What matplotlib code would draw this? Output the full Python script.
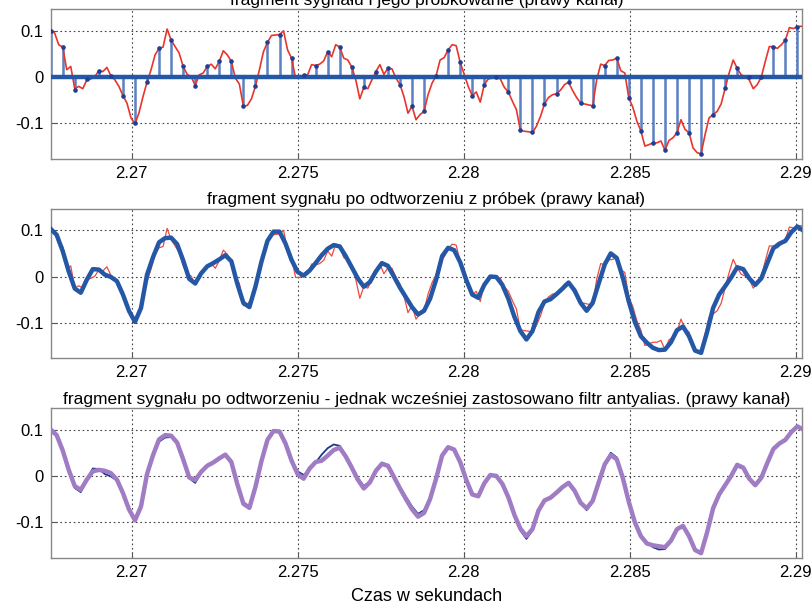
import numpy as np
import matplotlib
matplotlib.use('Agg')
import matplotlib.pyplot as plt

plt.rcParams['font.family'] = ['Liberation Sans', 'DejaVu Sans']

# time axis: first sample and sampling step (44100 / 16 Hz)
t_start = 2.26756
dt = 1 / 2756.25

# original signal (red), read every 1/3 of a sampling period
signal = [
    0.102, 0.095, 0.070, 0.065, 0.016, 0.023, -0.025, -0.020, -0.025, -0.006,
    -0.004, 0.001, 0.014, 0.012, 0.021, 0.003, -0.006, -0.020, -0.040, -0.056,
    -0.088, -0.101, -0.077, -0.042, -0.011, 0.016, 0.048, 0.062, 0.065, 0.104,
    0.080, 0.066, 0.052, 0.023, 0.006, 0.001, -0.018, 0.005, 0.009, 0.023,
    0.028, 0.018, 0.034, 0.057, 0.048, 0.034, -0.002, -0.015, -0.063, -0.061,
    -0.047, -0.020, 0.016, 0.055, 0.075, 0.090, 0.091, 0.092, 0.100, 0.059,
    0.041, -0.002, -0.002, 0.004, 0.005, 0.027, 0.025, 0.028, 0.035, 0.055,
    0.044, 0.070, 0.065, 0.041, 0.037, 0.022, -0.006, -0.047, -0.022, -0.025,
    -0.006, 0.012, 0.027, 0.006, 0.019, 0.018, -0.002, -0.016, -0.042, -0.078,
    -0.063, -0.092, -0.081, -0.074, -0.038, -0.013, 0.003, 0.037, 0.042, 0.059,
    0.070, 0.068, 0.032, 0.006, -0.020, -0.040, -0.032, -0.054, -0.016, -0.004,
    -0.002, 0.000, -0.004, -0.022, -0.032, -0.052, -0.070, -0.115, -0.117, -0.118,
    -0.120, -0.106, -0.085, -0.058, -0.044, -0.038, -0.036, -0.028, -0.016, -0.011,
    -0.029, -0.044, -0.056, -0.058, -0.060, -0.062, -0.006, 0.028, 0.025, 0.036,
    0.037, 0.041, 0.014, 0.009, -0.045, -0.065, -0.095, -0.116, -0.149, -0.146,
    -0.142, -0.142, -0.138, -0.158, -0.137, -0.131, -0.120, -0.092, -0.113, -0.120,
    -0.153, -0.163, -0.166, -0.124, -0.088, -0.081, -0.074, -0.058, -0.024, 0.009,
    0.037, 0.019, 0.005, 0.001, -0.006, -0.025, -0.016, 0.000, 0.034, 0.066,
    0.066, 0.062, 0.070, 0.080, 0.107, 0.105, 0.109, 0.110, 0.107,
]

# samples (stems)
samples = [
    0.100, 0.065, -0.027, -0.005, 0.014, 0.003, -0.040, -0.099, -0.011, 0.062,
    0.080, 0.023, -0.019, 0.023, 0.034, 0.034, -0.063, -0.020, 0.075, 0.092,
    0.041, 0.004, 0.025, 0.055, 0.065, 0.022, -0.022, 0.012, 0.019, -0.016,
    -0.063, -0.074, 0.003, 0.059, 0.032, -0.040, -0.016, 0.000, -0.032, -0.115,
    -0.118, -0.058, -0.036, -0.011, -0.056, -0.062, 0.025, 0.041, -0.045, -0.116,
    -0.142, -0.158, -0.120, -0.120, -0.166, -0.081, -0.024, 0.019, 0.001, 0.000,
    0.066, 0.080, 0.109,
]

# reconstructed signal (blue), read every half sampling period
rebuilt = [
    0.103, 0.090, 0.055, 0.011, -0.026, -0.035, -0.007, 0.016, 0.015, 0.004,
    -0.001, -0.010, -0.039, -0.074, -0.098, -0.068, 0.004, 0.042, 0.074, 0.083,
    0.084, 0.070, 0.035, -0.005, -0.015, 0.007, 0.022, 0.029, 0.037, 0.046,
    0.033, -0.016, -0.057, -0.066, -0.022, 0.032, 0.077, 0.097, 0.097, 0.071,
    0.036, 0.010, 0.002, 0.013, 0.029, 0.046, 0.060, 0.068, 0.065, 0.044,
    0.020, -0.004, -0.022, -0.012, 0.011, 0.029, 0.023, 0.000, -0.024, -0.045,
    -0.066, -0.082, -0.074, -0.048, -0.007, 0.044, 0.062, 0.057, 0.031, -0.007,
    -0.039, -0.046, -0.018, 0.000, -0.001, -0.018, -0.048, -0.087, -0.118, -0.136,
    -0.118, -0.077, -0.054, -0.049, -0.038, -0.026, -0.013, -0.030, -0.057, -0.074,
    -0.057, -0.015, 0.026, 0.050, 0.040, -0.002, -0.054, -0.098, -0.129, -0.143,
    -0.154, -0.159, -0.158, -0.142, -0.116, -0.108, -0.129, -0.160, -0.165, -0.120,
    -0.068, -0.039, -0.021, -0.002, 0.020, 0.016, -0.004, -0.018, -0.004, 0.029,
    0.061, 0.071, 0.077, 0.096, 0.108, 0.099,
]

# reconstructed signal after anti-aliasing filter (purple)
rebuilt_filtered = [
    0.100, 0.088, 0.055, 0.013, -0.022, -0.030, -0.008, 0.010, 0.013, 0.011,
    0.006, -0.008, -0.037, -0.072, -0.096, -0.066, 0.004, 0.045, 0.079, 0.088,
    0.087, 0.072, 0.036, -0.003, -0.009, 0.009, 0.022, 0.029, 0.038, 0.046,
    0.030, -0.018, -0.060, -0.069, -0.024, 0.032, 0.078, 0.097, 0.096, 0.070,
    0.033, 0.004, -0.006, 0.016, 0.030, 0.033, 0.044, 0.056, 0.061, 0.042,
    0.018, -0.008, -0.027, -0.014, 0.011, 0.026, 0.022, -0.002, -0.027, -0.050,
    -0.072, -0.088, -0.080, -0.050, -0.006, 0.044, 0.062, 0.057, 0.030, -0.008,
    -0.040, -0.044, -0.016, 0.002, 0.000, -0.017, -0.046, -0.084, -0.114, -0.130,
    -0.115, -0.075, -0.053, -0.047, -0.036, -0.024, -0.015, -0.032, -0.058, -0.070,
    -0.054, -0.014, 0.025, 0.045, 0.036, -0.004, -0.056, -0.100, -0.130, -0.146,
    -0.150, -0.152, -0.154, -0.140, -0.115, -0.108, -0.130, -0.160, -0.167, -0.122,
    -0.070, -0.040, -0.020, 0.000, 0.024, 0.018, -0.006, -0.020, -0.004, 0.028,
    0.058, 0.070, 0.078, 0.095, 0.107, 0.100,
]

titles = [
    'fragment sygnału i jego próbkowanie (prawy kanał)',
    'fragment sygnału po odtworzeniu z próbek (prawy kanał)',
    'fragment sygnału po odtworzeniu - jednak wcześniej zastosowano filtr antyalias. (prawy kanał)',
]
xticks = [2.27, 2.275, 2.28, 2.285, 2.29]
xtick_labels = ['2.27', '2.275', '2.28', '2.285', '2.29']
yticks = [-0.1, 0, 0.1]
ytick_labels = ['-0.1', '0', '0.1']

t_signal = t_start + np.arange(len(signal)) * dt / 3
t_samples = t_start + np.arange(len(samples)) * dt
t_rebuilt = t_start + np.arange(len(rebuilt)) * dt / 2

red = '#e8352c'
blue = '#2457a6'

fig = plt.figure(figsize=(8.12, 6.07), dpi=100)
bottoms = [0.738, 0.4095, 0.081]
axes = [fig.add_axes([0.0624, b, 0.9256, 0.247]) for b in bottoms]

# top: signal and its samples
ax = axes[0]
markerline, stemlines, baseline = ax.stem(t_samples, samples)
plt.setp(stemlines, color='#5b80c4', linewidth=1.8, zorder=2)
plt.setp(markerline, color='#1f3f96', markersize=2.3, zorder=5)
plt.setp(baseline, visible=False)
ax.plot(t_signal, signal, color=red, linewidth=1.2, zorder=3)
ax.axhline(0, color=blue, linewidth=3.2, zorder=4)

# middle: reconstruction from samples
ax = axes[1]
ax.plot(t_signal, signal, color='#ec4a40', linewidth=0.9, zorder=2)
ax.plot(t_rebuilt, rebuilt, color=blue, linewidth=3.2, zorder=3)

# bottom: reconstruction with anti-aliasing filter
ax = axes[2]
ax.plot(t_rebuilt, rebuilt, color='#1c3590', linewidth=1.3, zorder=2)
ax.plot(t_rebuilt, rebuilt_filtered, color='#a07cc4', linewidth=3.2, zorder=3)
ax.set_xlabel('Czas w sekundach', fontsize=13, labelpad=6)

for ax, title in zip(axes, titles):
    ax.set_xlim(2.26756, 2.2902)
    ax.set_ylim(-0.177, 0.147)
    ax.set_xticks(xticks)
    ax.set_xticklabels(xtick_labels)
    ax.set_yticks(yticks)
    ax.set_yticklabels(ytick_labels)
    ax.tick_params(direction='in', length=4, labelsize=12, pad=5, color='#555555')
    ax.grid(True, linestyle=(0, (1.5, 2.5)), color='#444444', linewidth=0.8)
    ax.set_axisbelow(True)
    for s in ax.spines.values():
        s.set_color('#888888')
        s.set_linewidth(1.0)
    ax.set_title(title, fontsize=12.5, pad=3)

fig.savefig('out.png', dpi=100)
